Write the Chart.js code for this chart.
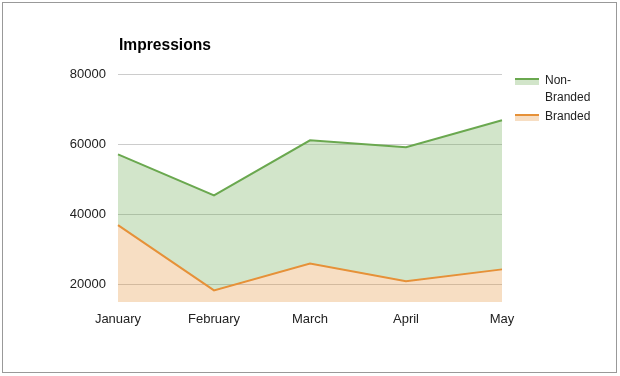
<!DOCTYPE html>
<html>
<head>
<meta charset="utf-8">
<script src="https://cdn.jsdelivr.net/npm/chart.js@4.4.0/dist/chart.umd.min.js"></script>
<style>
  html, body { margin: 0; padding: 0; background: #fff; }
  #wrap { position: relative; width: 620px; height: 376px; font-family: "Liberation Sans", Arial, sans-serif; }
  #frame { position: absolute; left: 2px; top: 2px; width: 613px; height: 369px; border: 1px solid #999; pointer-events: none; }
  #title { position: absolute; left: 119px; top: 36px; font-size: 15.6px; font-weight: bold; color: #000; }
  #legend { position: absolute; left: 515px; top: 74px; font-size: 12px; color: #222; }
  .item { display: flex; align-items: flex-start; margin-bottom: 4px; }
  .sw { width: 24px; height: 7px; margin-top: 4px; margin-right: 6px; box-sizing: border-box; }
  .txt { line-height: 17px; margin-top: -2px; }
</style>
</head>
<body>
<div id="wrap">
  <canvas id="chart" width="620" height="376"></canvas>
  <div id="frame"></div>
  <div id="title">Impressions</div>
  <div id="legend"></div>
</div>
<script>
// Data
var months = ["January", "February", "March", "April", "May"];
var nonBranded = [57100, 45400, 61100, 59100, 66800];
var branded = [36900, 18300, 26000, 20900, 24300];
var yTicks = [20000, 40000, 60000, 80000];

var green = "#6aa84f";
var orange = "#e69138";

var ctx = document.getElementById("chart").getContext("2d");
var myChart = new Chart(ctx, {
    type: "line",
    data: {
        labels: months,
        datasets: [{
            label: "Branded",
            data: branded,
            borderColor: orange,
            backgroundColor: "rgba(230, 145, 56, .3)",
            borderWidth: 2,
            pointRadius: 0,
            tension: 0,
            fill: "start"
        }, {
            label: "Non-Branded",
            data: nonBranded,
            borderColor: green,
            backgroundColor: "rgba(106, 168, 79, .3)",
            borderWidth: 2,
            pointRadius: 0,
            tension: 0,
            fill: 0
        }]
    },
    options: {
        responsive: false,
        animation: false,
        layout: { padding: { top: 74, right: 118, left: 0, bottom: 0 } },
        plugins: {
            legend: { display: false },
            title: { display: false },
            tooltip: { enabled: false }
        },
        scales: {
            x: {
                offset: false,
                grid: { display: false },
                border: { display: false },
                ticks: { color: "#222", font: { family: "Liberation Sans", size: 13 }, padding: 2, maxRotation: 0 },
                afterFit: function (scale) { scale.height = 74; }
            },
            y: {
                min: 15000,
                max: 80000,
                grid: { color: "#cccccc", drawTicks: false },
                border: { display: false },
                ticks: {
                    color: "#222",
                    font: { family: "Liberation Sans", size: 13 },
                    padding: 12,
                    callback: function (v) { return String(v); }
                },
                afterBuildTicks: function (scale) {
                    scale.ticks = yTicks.map(function (v) { return { value: v }; });
                },
                afterFit: function (scale) { scale.width = 118; }
            }
        }
    }
});

// HTML legend (wrapped label like the original)
var legendItems = [
    { text: "Non-<br>Branded", line: green, fill: "rgba(106, 168, 79, .3)" },
    { text: "Branded", line: orange, fill: "rgba(230, 145, 56, .3)" }
];
var html = "";
legendItems.forEach(function (it) {
    html += '<div class="item"><div class="sw" style="border-top:2px solid ' + it.line +
        ';background:' + it.fill + '"></div><div class="txt">' + it.text + '</div></div>';
});
document.getElementById("legend").innerHTML = html;
</script>
</body>
</html>
